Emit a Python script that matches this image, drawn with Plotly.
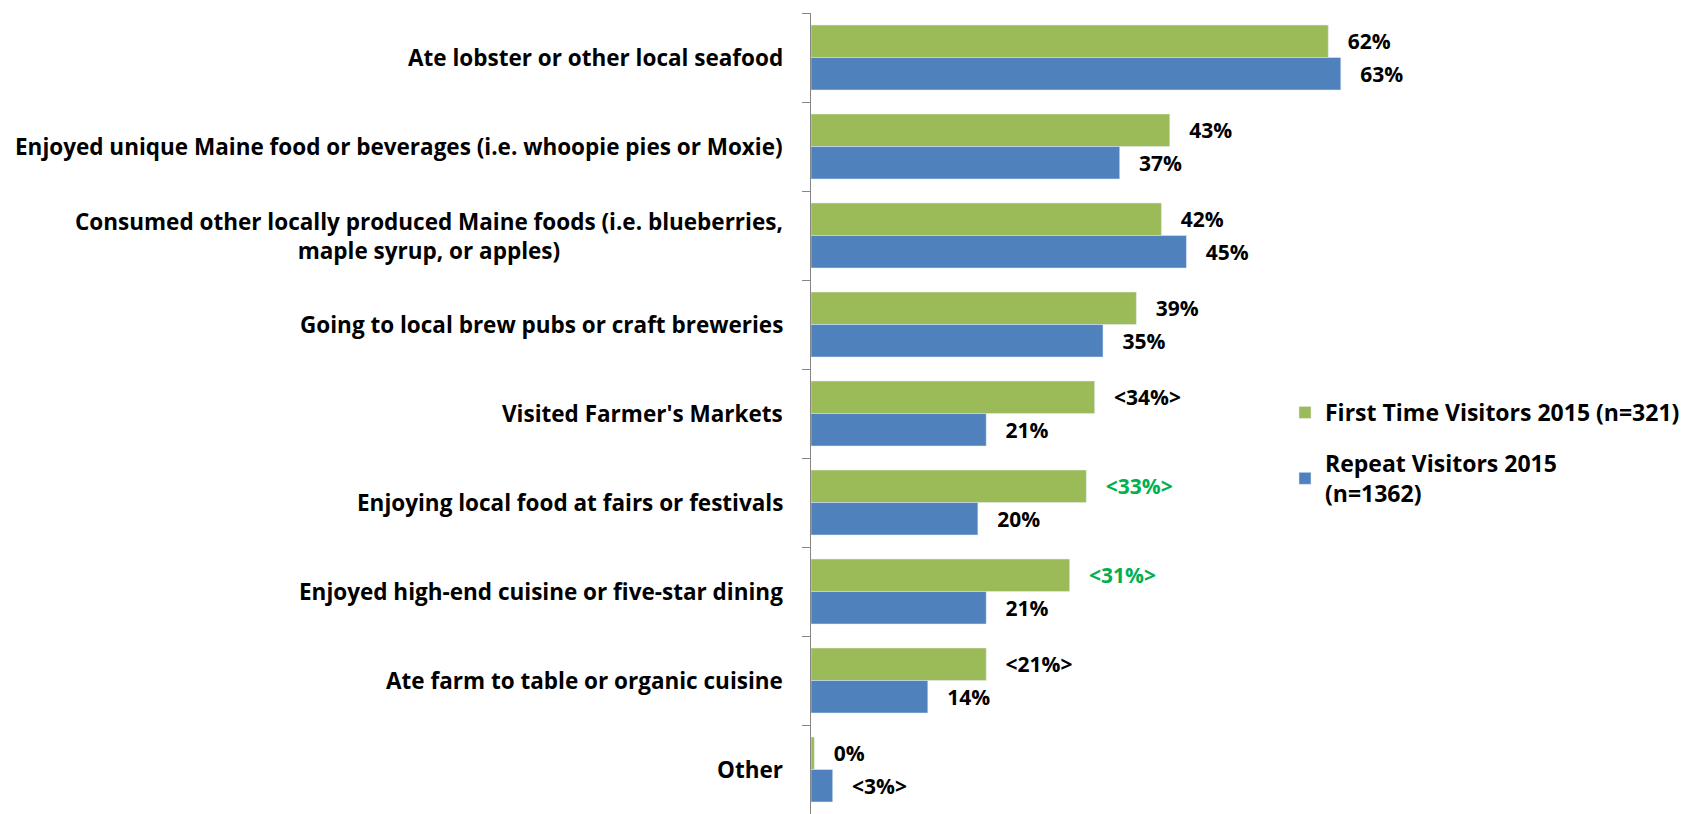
import plotly.graph_objects as go

categories = [
    "Ate lobster or other local seafood",
    "Enjoyed unique Maine food or beverages (i.e. whoopie pies or Moxie)",
    "Consumed other locally produced Maine foods (i.e. blueberries,<br>maple syrup, or apples)",
    "Going to local brew pubs or craft breweries",
    "Visited Farmer's Markets",
    "Enjoying local food at fairs or festivals",
    "Enjoyed high-end cuisine or five-star dining",
    "Ate farm to table or organic cuisine",
    "Other",
]
first_time = [62, 43, 42, 39, 34, 33, 31, 21, 0.4]
repeat = [63.5, 37, 45, 35, 21, 20, 21, 14, 2.6]
first_labels = ["62%", "43%", "42%", "39%", "<34%>", "<33%>", "<31%>", "<21%>", "0%"]
repeat_labels = ["63%", "37%", "45%", "35%", "21%", "20%", "21%", "14%", "<3%>"]
first_label_colors = ["#000000"] * 5 + ["#00B050", "#00B050"] + ["#000000"] * 2
repeat_label_colors = ["#000000"] * 9

FONT = "Open Sans, sans-serif"
FS_CAT = 22.5
FS_VAL = 21
FS_LEG = 23
GREEN = "#9BBB59"
BLUE = "#4F81BD"
PAD = "\u00a0\u00a0\u00a0"

fig = go.Figure()
fig.add_trace(go.Bar(
    y=categories, x=first_time, orientation="h",
    name="<b>First Time Visitors 2015 (n=321)</b>",
    marker=dict(color=GREEN),
    text=[PAD + t.replace("<", "&lt;").replace(">", "&gt;") for t in first_labels],
    texttemplate="<b>%{text}</b>",
    textposition="outside", constraintext="none", cliponaxis=False,
    textfont=dict(family=FONT, size=FS_VAL, color=first_label_colors),
    legendgroup="a",
))
fig.add_trace(go.Bar(
    y=categories, x=repeat, orientation="h",
    name="<b>Repeat Visitors 2015<br>(n=1362)</b>",
    marker=dict(color=BLUE),
    text=[PAD + t.replace("<", "&lt;").replace(">", "&gt;") for t in repeat_labels],
    texttemplate="<b>%{text}</b>",
    textposition="outside", constraintext="none", cliponaxis=False,
    textfont=dict(family=FONT, size=FS_VAL, color=repeat_label_colors),
    legendgroup="b",
))

annotations = []
for c in categories:
    annotations.append(dict(
        x=0, xref="paper", y=c, yref="y", xanchor="right", yanchor="middle",
        xshift=-26, align="center", showarrow=False,
        text="<b>" + c + "</b>",
        font=dict(family=FONT, size=FS_CAT, color="#000000"),
    ))

plot_left = 811
width, height = 1685, 814
xmax = (width - plot_left) / 8.43

fig.update_layout(
    width=width, height=height,
    margin=dict(l=plot_left, r=0, t=13, b=0, pad=0),
    paper_bgcolor="white", plot_bgcolor="white",
    barmode="group", bargap=0.27, bargroupgap=0,
    font=dict(family=FONT, size=FS_VAL, color="#000000"),
    showlegend=True,
    legend=dict(
        x=(1290 - plot_left) / (width - plot_left), xanchor="left",
        y=(814 - 391) / 801, yanchor="top",
        traceorder="grouped", tracegroupgap=18,
        font=dict(family=FONT, size=FS_LEG, color="#000000"),
        itemwidth=30, bgcolor="rgba(0,0,0,0)",
    ),
    annotations=annotations,
    xaxis=dict(range=[0, xmax], visible=False, showgrid=False, zeroline=False),
    yaxis=dict(
        autorange="reversed", showticklabels=False,
        showline=True, linecolor="#868686", linewidth=1,
        ticks="outside", tickson="boundaries", ticklen=8, tickcolor="#868686",
        showgrid=False, zeroline=False,
    ),
)

fig.write_html("out.html", config={"displayModeBar": False},
               post_script="document.body.style.margin='0';")
